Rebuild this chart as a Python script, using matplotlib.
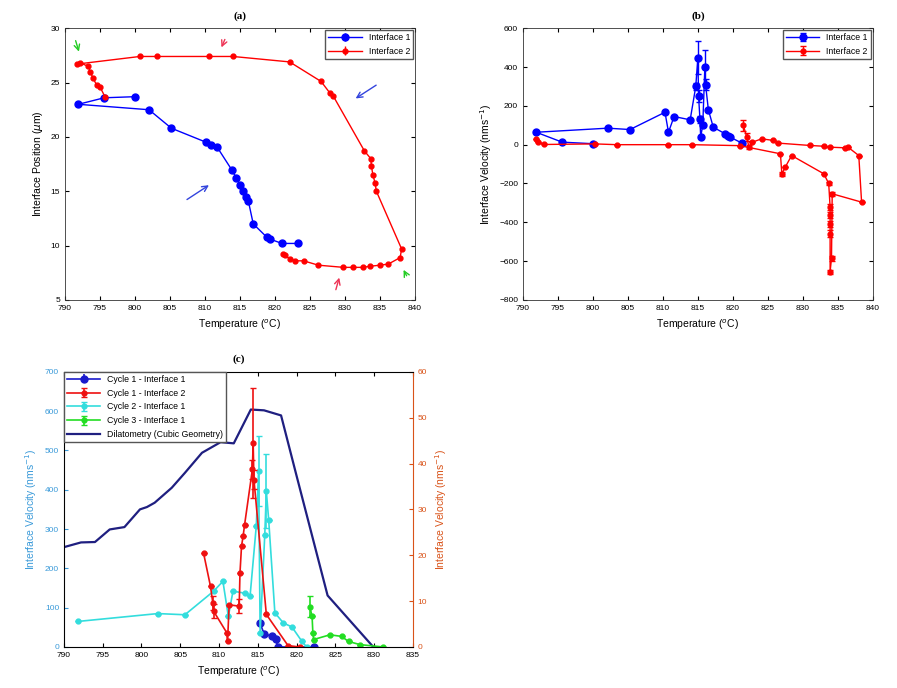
import matplotlib
matplotlib.use("Agg")
import matplotlib.pyplot as plt
import numpy as np

plt.rcParams['font.family'] = ['Liberation Sans', 'DejaVu Sans']

# ---- panel (a): interface position vs temperature
a_t1 = [800.0, 795.6, 791.9, 802.0, 805.2, 810.2, 810.9, 811.7, 813.8, 814.5,
        815.0, 815.5, 815.9, 816.2, 816.9, 818.8, 819.3, 821.0, 823.3]
a_p1 = [23.7, 23.6, 23.0, 22.5, 20.8, 19.5, 19.3, 19.1, 17.0, 16.2,
        15.6, 15.0, 14.5, 14.1, 12.0, 10.8, 10.6, 10.2, 10.2]
a_t2 = [795.7, 795.0, 794.5, 794.0, 793.6, 793.3, 792.2, 791.7, 800.7, 803.1,
        810.6, 814.0, 822.1, 826.6, 827.9, 828.3, 832.8, 833.7, 833.8, 834.0,
        834.3, 834.5, 838.1, 837.9, 836.2, 835.0, 833.6, 832.6, 831.2, 829.8,
        826.2, 824.1, 822.9, 822.1, 821.4, 821.2]
a_p2 = [23.7, 24.6, 24.8, 25.4, 26.0, 26.5, 26.8, 26.7, 27.4, 27.4,
        27.4, 27.4, 26.9, 25.1, 24.0, 23.8, 18.7, 18.0, 17.3, 16.5,
        15.8, 15.0, 9.7, 8.9, 8.3, 8.2, 8.1, 8.0, 8.0, 8.0,
        8.2, 8.6, 8.6, 8.8, 9.1, 9.2]

# ---- panel (b): interface velocity vs temperature
b_t1 = [800.0, 795.6, 791.9, 802.1, 805.3, 810.3, 810.8, 811.6, 813.9, 814.7,
        815.0, 815.1, 815.3, 815.4, 815.7, 816.0, 816.1, 816.5, 817.2, 818.9,
        819.3, 819.6, 821.3]
b_v1 = [5, 13, 64, 85, 78, 167, 64, 145, 128, 300,
        449, 250, 130, 40, 100, 400, 310, 180, 90, 56,
        45, 39, 8]
b_e1 = [0, 0, 0, 0, 0, 0, 0, 0, 0, 20,
        85, 30, 20, 0, 0, 88, 30, 0, 0, 0,
        0, 0, 0]
b_t2 = [791.8, 792.2, 793.0, 800.3, 803.4, 810.8, 814.1, 821.0, 826.8, 827.0,
        827.5, 828.4, 833.0, 833.7, 833.9, 833.9, 833.9, 833.9, 833.9, 834.1,
        834.2, 838.4, 838.0, 836.5, 836.0, 833.9, 833.0, 831.0, 826.5, 825.8,
        824.1, 822.8, 822.3, 822.0, 821.5]
b_v2 = [30, 13, 1, 4, 0, 0, 0, -5, -47, -150,
        -115, -56, -150, -200, -321, -364, -407, -458, -655, -586,
        -253, -296, -56, -14, -16, -13, -8, -4, 8, 22,
        30, 13, -13, 38, 99]
b_e2 = [0, 0, 0, 0, 0, 0, 0, 0, 0, 10,
        0, 0, 0, 10, 15, 15, 15, 20, 10, 15,
        10, 0, 0, 0, 0, 0, 0, 0, 0, 0,
        0, 0, 10, 20, 30]

# ---- panel (c): cycles + dilatometry
dil_t = [790.0, 792.2, 794.0, 795.9, 797.8, 799.8, 800.7, 801.7, 803.9, 805.6,
         807.8, 810.2, 811.9, 814.1, 815.8, 818.0, 819.9, 824.0, 829.9]
dil_v = [254, 266, 267, 299, 305, 350, 356, 367, 405, 443,
         494, 521, 518, 604, 602, 589, 443, 131, 0]
c11_t = [815.3, 815.8, 816.8, 817.3, 817.6, 822.3]
c11_v = [60, 34, 27, 20, 0, 0]
c12_t = [808.0, 808.9, 809.2, 809.3, 811.0, 811.1, 811.3, 812.6, 812.7, 812.9,
         813.1, 813.3, 814.3, 814.4, 814.5, 816.1, 818.9, 820.4]
c12_v = [20.5, 13.2, 9.6, 7.8, 3.1, 1.2, 9.2, 8.9, 16.1, 22.0,
         24.1, 26.7, 38.7, 44.5, 36.5, 7.1, 0.3, 0.0]
c12_e = [0, 0, 1.5, 1.5, 0, 0, 0, 1.5, 0, 0,
         0, 0, 2, 12, 2, 0, 0, 0]
c21_t = [791.8, 802.1, 805.6, 809.3, 810.5, 811.2, 811.8, 813.3, 814.0, 814.8,
         815.1, 815.3, 815.9, 816.1, 816.4, 817.2, 818.3, 819.4, 820.7, 821.3]
c21_v = [65, 85, 82, 142, 167, 78, 142, 137, 129, 307,
         447, 36, 286, 396, 324, 87, 61, 51, 14, 0]
c21_e = [0, 0, 0, 0, 0, 0, 0, 0, 0, 0,
         89, 0, 0, 94, 0, 0, 0, 0, 0, 0]
c31_t = [821.7, 822.0, 822.1, 822.2, 824.3, 825.8, 826.7, 828.2, 831.2]
c31_v = [103, 78, 36, 19, 31, 27, 14, 6, 0]
c31_e = [26, 0, 0, 0, 0, 0, 0, 0, 0]

BLUE = '#0000ff'
RED = '#ff0000'
LBLUE = '#3a9ad9'
ORANGE = '#d95319'


def style(ax):
    ax.tick_params(direction='in', labelsize=6, length=3, top=True, right=True)
    for s in ax.spines.values():
        s.set_color('#333333')
        s.set_linewidth(0.6)


leg_kw = dict(fontsize=6.3, handlelength=3.8, borderpad=0.35, labelspacing=0.55,
              fancybox=False, edgecolor='#555555', framealpha=1)

fig = plt.figure(figsize=(8.97, 6.88), dpi=100)

# ----------------- (a)
axa = fig.add_axes([0.0725, 0.564, 0.390, 0.395])
axa.errorbar(a_t1, a_p1, yerr=np.zeros(len(a_t1)), color=BLUE, marker='o',
             ms=5, lw=1.0, ecolor=BLUE, label='Interface 1')
axa.errorbar(a_t2, a_p2, yerr=np.zeros(len(a_t2)), color=RED, marker='o',
             ms=3.5, lw=1.0, ecolor=RED, label='Interface 2')
axa.set_xlim(790, 840)
axa.set_ylim(5, 30)
axa.set_xticks(np.arange(790, 841, 5))
axa.set_yticks(np.arange(5, 31, 5))
axa.set_xlabel('Temperature ($^{o}$C)', fontsize=7.5)
axa.set_ylabel('Interface Position ($\\mu$m)', fontsize=7.5)
axa.set_title('(a)', fontsize=8, fontweight='bold', family='Liberation Serif', pad=7)
style(axa)
axa.legend(loc='upper right', borderaxespad=0.2, **leg_kw)
arrows = [((791.4, 29.1), (792.1, 27.6), '#22cc22'),
          ((813.0, 29.2), (812.2, 28.0), '#ee3355'),
          ((834.8, 24.9), (831.2, 23.4), '#3344dd'),
          ((807.1, 14.1), (810.9, 15.7), '#3344dd'),
          ((828.6, 5.7), (829.3, 7.3), '#ee3355'),
          ((839.0, 7.0), (838.2, 8.0), '#22cc22')]
for tail, head, col in arrows:
    axa.annotate('', xy=head, xytext=tail,
                 arrowprops=dict(arrowstyle='->', color=col, lw=1.0))

# ----------------- (b)
axb = fig.add_axes([0.583, 0.564, 0.390, 0.395])
axb.errorbar(b_t1, b_v1, yerr=b_e1, color=BLUE, marker='o', ms=5, lw=1.0,
             ecolor=BLUE, capsize=2, label='Interface 1')
axb.errorbar(b_t2, b_v2, yerr=b_e2, color=RED, marker='o', ms=3.5, lw=1.0,
             ecolor=RED, capsize=2, label='Interface 2')
axb.set_xlim(790, 840)
axb.set_ylim(-800, 600)
axb.set_xticks(np.arange(790, 841, 5))
axb.set_yticks(np.arange(-800, 601, 200))
axb.set_xlabel('Temperature ($^{o}$C)', fontsize=7.5)
axb.set_ylabel('Interface Velocity (nms$^{-1}$)', fontsize=7.5)
axb.set_title('(b)', fontsize=8, fontweight='bold', family='Liberation Serif', pad=7)
style(axb)
axb.legend(loc='upper right', borderaxespad=0.2, **leg_kw)

# ----------------- (c)
axc = fig.add_axes([0.0713, 0.0596, 0.389, 0.400])
axr = axc.twinx()
hc1 = axc.errorbar(c11_t, c11_v, yerr=np.zeros(len(c11_t)), color='#1a1acc',
                   marker='o', ms=5, lw=1.2, label='Cycle 1 - Interface 1')
hc3 = axc.errorbar(c21_t, c21_v, yerr=c21_e, color='#33dddd', marker='o', ms=3.5,
                   lw=1.2, capsize=2, label='Cycle 2 - Interface 1')
hc4 = axc.errorbar(c31_t, c31_v, yerr=c31_e, color='#22dd22', marker='o', ms=3.5,
                   lw=1.2, capsize=2, label='Cycle 3 - Interface 1')
hd, = axc.plot(dil_t, dil_v, color='#1f1f80', lw=1.6,
               label='Dilatometry (Cubic Geometry)')
hc2 = axr.errorbar(c12_t, c12_v, yerr=c12_e, color='#ee1111', marker='o', ms=3.5,
                   lw=1.2, capsize=2, label='Cycle 1 - Interface 2')
axc.set_xlim(790, 835)
axc.set_ylim(0, 700)
axr.set_ylim(0, 60)
axc.set_xticks(np.arange(790, 836, 5))
axc.set_yticks(np.arange(0, 701, 100))
axr.set_yticks(np.arange(0, 61, 10))
axc.set_xlabel('Temperature ($^{o}$C)', fontsize=7.5)
axc.set_ylabel('Interface Velocity (nms$^{-1}$)', fontsize=7.5, color=LBLUE)
axr.set_ylabel('Interface Velocity (nms$^{-1}$)', fontsize=7.5, color=ORANGE)
axc.set_title('(c)', fontsize=8, fontweight='bold', family='Liberation Serif', pad=7)
axc.tick_params(direction='in', labelsize=6, length=3, top=True)
axc.tick_params(axis='y', colors=LBLUE)
axr.tick_params(direction='in', labelsize=6, length=3, colors=ORANGE)
for s in axc.spines.values():
    s.set_linewidth(0.6)
    s.set_color('#333333')
axr.spines['right'].set_color(ORANGE)
axr.legend([hc1, hc2, hc3, hc4, hd],
           ['Cycle 1 - Interface 1', 'Cycle 1 - Interface 2',
            'Cycle 2 - Interface 1', 'Cycle 3 - Interface 1',
            'Dilatometry (Cubic Geometry)'],
           loc='upper left', borderaxespad=0, **leg_kw)

fig.savefig('out.png', dpi=100)
